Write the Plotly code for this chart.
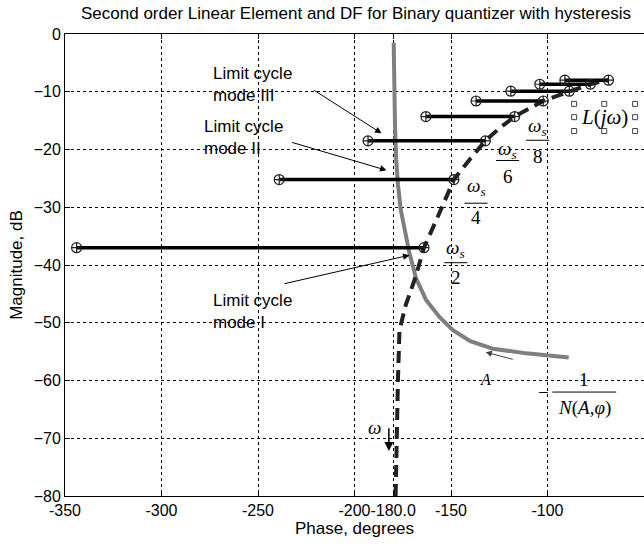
import plotly.graph_objects as go

# ---------------- data ----------------
# -1/N(A,phi) curve (grey solid)
df_phase = [-179.7, -179.5, -179.0, -178.4, -177.5, -176.0, -174.0, -171.5, -168.1,
            -163.0, -156.0, -149.0, -140.0, -128.4, -111.0, -100.0, -89.0]
df_mag = [-1.5, -10.0, -16.0, -21.8, -26.0, -30.5, -34.0, -38.0, -42.3,
          -46.0, -49.0, -51.3, -53.2, -54.5, -55.3, -55.6, -56.0]

# Linear element L(jw) (dark dashed)
lin_phase = [-178.7, -178.4, -177.5, -176.7, -173.5, -168.4, -164.0, -156.0, -148.5,
             -140.5, -132.2, -124.5, -117.0, -109.5, -102.2, -95.0, -88.7, -83.0,
             -77.8, -73.0, -68.4]
lin_mag = [-80.0, -74.0, -60.0, -51.3, -47.0, -42.1, -37.0, -31.0, -25.2,
           -21.8, -18.5, -16.2, -14.3, -12.9, -11.6, -10.7, -9.9, -9.3,
           -8.7, -8.3, -8.0]

# Limit cycle segments (left phase, right phase, magnitude)
seg_left = [-344.0, -239.0, -193.0, -163.0, -137.0, -119.0, -104.0, -91.0]
seg_right = [-164.0, -148.5, -132.2, -117.0, -102.2, -88.7, -77.8, -68.4]
seg_mag = [-37.0, -25.2, -18.5, -14.3, -11.6, -9.9, -8.7, -8.0]

x_ticks = [-350, -300, -250, -200, -180, -150, -100]
x_ticklabels = ["-350", "-300", "-250", "-200", "-180.0", "-150", "-100"]
y_ticks = [0, -10, -20, -30, -40, -50, -60, -70, -80]

# ---------------- figure ----------------
fig = go.Figure()

fig.add_trace(go.Scatter(x=df_phase, y=df_mag, mode="lines",
                         line=dict(color="#7f7f7f", width=4), hoverinfo="skip",
                         showlegend=False))
fig.add_trace(go.Scatter(x=lin_phase, y=lin_mag, mode="lines",
                         line=dict(color="#222222", width=4, dash="12px,7px"),
                         hoverinfo="skip", showlegend=False))

sx, sy = [], []
for a, b, m in zip(seg_left, seg_right, seg_mag):
    sx += [a, b, None]
    sy += [m, m, None]
fig.add_trace(go.Scatter(x=sx, y=sy, mode="lines+markers",
                         line=dict(color="black", width=3.5),
                         marker=dict(symbol="circle-cross-open", size=10,
                                     color="#202020", line=dict(width=1.2)),
                         hoverinfo="skip", showlegend=False))

ann = []
sans = dict(family="Liberation Sans, Arial", size=17, color="black")
serif = dict(family="Liberation Serif, Times New Roman", size=19, color="black")

# Limit cycle labels with arrows
for txt, tx, ty, ax_, ay_, hx, hy in [
        ("Limit cycle<br>mode III", -274.6, -8.8, -221.6, -9.6, -186.0, -17.2),
        ("Limit cycle<br>mode II", -278.8, -18.0, -233.1, -18.7, -183.4, -23.6),
        ("Limit cycle<br>mode I", -274.6, -48.0, -237.1, -43.3, -171.5, -38.3)]:
    ann.append(dict(x=tx, y=ty, xref="x", yref="y", text=txt, showarrow=False,
                    xanchor="left", yanchor="middle", align="left", font=sans))
    ann.append(dict(x=hx, y=hy, ax=ax_, ay=ay_, xref="x", yref="y", axref="x", ayref="y",
                    text="", showarrow=True, arrowhead=2, arrowsize=1.3, arrowwidth=1,
                    arrowcolor="black"))

# omega_s fractions
shapes = []
for den, cx, ynum, ybar, yden in [("2", -147.5, -37.2, -39.6, -42.2),
                                   ("4", -137.0, -26.5, -29.3, -31.8),
                                   ("6", -120.7, -20.1, -21.9, -24.7),
                                   ("8", -105.1, -16.1, -18.4, -21.2)]:
    ann.append(dict(x=cx, y=ynum, xref="x", yref="y", text="<i>ω<sub>s</sub></i>",
                    showarrow=False, font=serif))
    ann.append(dict(x=cx, y=yden, xref="x", yref="y", text=den,
                    showarrow=False, font=serif))
    shapes.append(dict(type="line", xref="x", yref="y", x0=cx - 6, x1=cx + 6,
                       y0=ybar, y1=ybar, line=dict(color="black", width=1)))

# L(jw) label with selection handles
ann.append(dict(x=-70.6, y=-14.4, xref="x", yref="y", text="<i>L</i>(<i>jω</i>)",
                showarrow=False, font=dict(family="Liberation Serif", size=21, color="black")))
for hx, hy in [(-86.2, -12.1), (-70.6, -12.1), (-54.6, -12.1),
               (-86.2, -14.4), (-54.6, -14.4),
               (-86.2, -16.8), (-70.6, -16.8), (-54.6, -16.8)]:
    shapes.append(dict(type="rect", xref="x", yref="y", xsizemode="pixel", ysizemode="pixel",
                       xanchor=hx, yanchor=hy, x0=-2.5, x1=2.5, y0=-2.5, y1=2.5,
                       line=dict(color="#444", width=1), fillcolor="white"))

# A label and arrow along -1/N
ann.append(dict(x=-132.0, y=-59.8, xref="x", yref="y", text="<i>A</i>", showarrow=False,
                font=dict(family="Liberation Serif", size=16, color="black")))
ann.append(dict(x=-132.0, y=-55.1, ax=-117.2, ay=-56.4, xref="x", yref="y", axref="x",
                ayref="y", text="", showarrow=True, arrowhead=2, arrowsize=1.2,
                arrowwidth=1, arrowcolor="#404040"))

# -1/N(A,phi) label
ann.append(dict(x=-102.0, y=-62.0, xref="x", yref="y", text="−", showarrow=False,
                font=serif))
ann.append(dict(x=-81.0, y=-59.9, xref="x", yref="y", text="1", showarrow=False,
                font=serif))
ann.append(dict(x=-81.0, y=-64.7, xref="x", yref="y", text="<i>N</i>(<i>A</i>,<i>φ</i>)",
                showarrow=False, font=serif))
shapes.append(dict(type="line", xref="x", yref="y", x0=-97.5, x1=-64.4, y0=-62.0, y1=-62.0,
                   line=dict(color="black", width=1)))

# omega label with down arrow
ann.append(dict(x=-189.6, y=-68.1, xref="x", yref="y", text="<i>ω</i>", showarrow=False,
                font=serif))
ann.append(dict(x=-182.2, y=-72.2, ax=-182.2, ay=-68.0, xref="x", yref="y", axref="x",
                ayref="y", text="", showarrow=True, arrowhead=2, arrowsize=1.2,
                arrowwidth=1.5, arrowcolor="black"))

axis_font = dict(family="Liberation Sans, Arial", size=16, color="black")

fig.update_layout(
    width=644, height=547,
    margin=dict(l=65, r=0, t=34, b=51, autoexpand=False),
    paper_bgcolor="white", plot_bgcolor="white",
    title=dict(text="Second order Linear Element and DF for Binary quantizer with hysteresis",
               x=356 / 644, xanchor="center", xref="container", y=1 - 13 / 547,
               yanchor="middle",
               font=dict(family="Liberation Sans, Arial", size=17, color="black")),
    xaxis=dict(range=[-350, -50], tickmode="array", tickvals=x_ticks, ticktext=x_ticklabels,
               tickangle=0, automargin=False,
               ticks="inside", ticklen=5, tickcolor="black", showline=True, linecolor="black",
               linewidth=1, showgrid=True, gridcolor="black", griddash="dot", gridwidth=1,
               zeroline=False, tickfont=axis_font,
               title=dict(text="Phase, degrees", font=dict(family="Liberation Sans, Arial",
                                                            size=17, color="black"), standoff=2)),
    xaxis2=dict(range=[-350, -50], overlaying="x", side="top", tickmode="array",
                tickvals=x_ticks, showticklabels=False, ticks="inside", ticklen=5,
                tickcolor="black", showline=True, linecolor="black", linewidth=1,
                showgrid=False, zeroline=False, automargin=False),
    yaxis=dict(range=[-80, 0], tickmode="array", tickvals=y_ticks, ticks="inside", ticklen=5,
               tickcolor="black", showline=True, linecolor="black", linewidth=1,
               showgrid=True, gridcolor="black", griddash="dot", gridwidth=1,
               zeroline=False, tickfont=axis_font, automargin=False,
               title=dict(text="Magnitude, dB", font=dict(family="Liberation Sans, Arial",
                                                           size=17, color="black"), standoff=6)),
    annotations=ann, shapes=shapes,
)
# invisible trace to activate top axis
fig.add_trace(go.Scatter(x=[-350], y=[-80], xaxis="x2", mode="markers",
                         marker=dict(opacity=0), hoverinfo="skip", showlegend=False))

fig.write_html("out.html", config={"displayModeBar": False},
               post_script="document.body.style.margin='0';document.body.style.overflow='hidden';")
